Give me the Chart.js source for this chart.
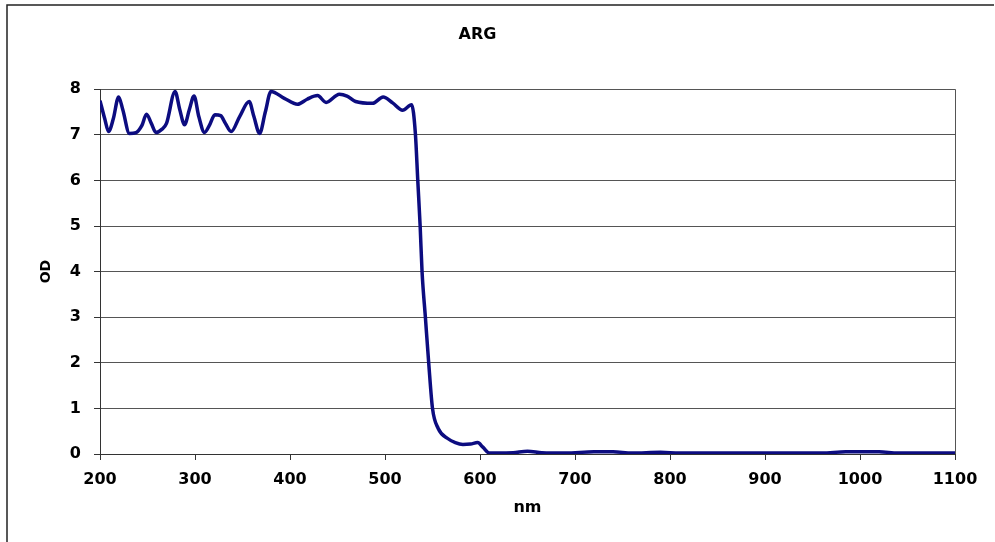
<!DOCTYPE html>
<html>
<head>
<meta charset="utf-8">
<script src="https://cdn.jsdelivr.net/npm/chart.js@4/dist/chart.umd.min.js"></script>
<style>
  body { margin: 0; background: #fff; }
  canvas { display: block; }
</style>
</head>
<body>
<canvas id="odChart" width="995" height="542"></canvas>
<script>
// wavelength (nm) and optical density
const wavelength = [
  200, 205, 209, 214, 219.6, 224, 231, 238, 244, 249, 254, 259, 265, 270, 279, 284, 289, 294, 299, 304,
  310, 315, 321, 327, 332, 338, 347, 357, 362, 368, 374, 380, 394, 408, 418, 429, 438, 452, 460, 469,
  487, 498, 508, 518.5, 528, 532, 534.5, 537, 539, 542.5, 546, 550, 556, 566, 574, 582, 590, 597.5, 603, 610,
  620, 635, 650, 665, 690, 720, 740, 760, 790, 810, 960, 985, 1020, 1040, 1100
];
const od = [
  7.75, 7.35, 7.07, 7.35, 7.83, 7.55, 7.03, 7.05, 7.2, 7.45, 7.25, 7.05, 7.12, 7.25, 7.95, 7.55, 7.22, 7.55, 7.85, 7.4,
  7.05, 7.2, 7.44, 7.42, 7.25, 7.07, 7.4, 7.73, 7.4, 7.03, 7.5, 7.95, 7.8, 7.67, 7.78, 7.86, 7.71, 7.89, 7.85, 7.73,
  7.69, 7.83, 7.7, 7.54, 7.66, 7.02, 6.0, 5.0, 4.0, 3.0, 2.0, 1.0, 0.56, 0.34, 0.25, 0.21, 0.22, 0.25, 0.15, 0.02,
  0.02, 0.03, 0.06, 0.03, 0.02, 0.05, 0.05, 0.02, 0.04, 0.02, 0.02, 0.05, 0.05, 0.02, 0.02
];
const xTicks = [200, 300, 400, 500, 600, 700, 800, 900, 1000, 1100];
const yTicks = [0, 1, 2, 3, 4, 5, 6, 7, 8];

const points = wavelength.map((w, i) => ({ x: w, y: od[i] }));
const boldFont = (size) => ({ family: "'DejaVu Sans', sans-serif", size: size, weight: 'bold' });

// outer frame (top and left edges only, as in the picture)
const frame = {
  id: 'frame',
  beforeDraw(chart) {
    const c = chart.ctx;
    c.save();
    c.fillStyle = '#fff';
    c.fillRect(0, 0, chart.width, chart.height);
    c.strokeStyle = '#222';
    c.lineWidth = 1.5;
    c.beginPath();
    c.moveTo(7, 542);
    c.lineTo(7, 5);
    c.lineTo(994, 5);
    c.stroke();
    c.restore();
  }
};

new Chart(document.getElementById('odChart'), {
  type: 'line',
  data: {
    datasets: [{
      data: points,
      borderColor: '#0c0c80',
      borderWidth: 3.5,
      pointRadius: 0,
      fill: false,
      cubicInterpolationMode: 'monotone'
    }]
  },
  options: {
    responsive: false,
    animation: false,
    layout: { padding: { left: 0, right: 40, top: 0, bottom: 0 } },
    plugins: {
      legend: { display: false },
      tooltip: { enabled: false },
      title: {
        display: true,
        text: 'ARG',
        color: '#000',
        font: boldFont(16),
        padding: { top: 25, bottom: 45 }
      }
    },
    scales: {
      x: {
        type: 'linear',
        min: 200,
        max: 1100,
        afterBuildTicks: (s) => { s.ticks = xTicks.map(v => ({ value: v })); },
        afterFit: (s) => { s.height = 88; },
        ticks: { color: '#000', font: boldFont(16), padding: 10, maxRotation: 0, callback: (v) => String(v) },
        grid: {
          color: (ctx) => ctx.tick && ctx.tick.value === 1100 ? '#555' : 'rgba(0,0,0,0)',
          tickColor: '#333',
          tickLength: 6,
          lineWidth: 1
        },
        border: { color: '#333', width: 1 },
        title: { display: true, text: 'nm', color: '#000', font: boldFont(16), padding: { top: 0, bottom: 25 } }
      },
      y: {
        min: 0,
        max: 8,
        afterBuildTicks: (s) => { s.ticks = yTicks.map(v => ({ value: v })); },
        afterFit: (s) => { s.width = 100; },
        ticks: { color: '#000', font: boldFont(16), padding: 13, callback: (v) => String(v) },
        grid: { color: '#555', tickColor: '#333', tickLength: 6, lineWidth: 1 },
        border: { color: '#333', width: 1 },
        title: { display: true, text: 'OD', color: '#000', font: boldFont(14), padding: { top: 38, bottom: 0 } }
      }
    }
  },
  plugins: [frame]
});
</script>
</body>
</html>
